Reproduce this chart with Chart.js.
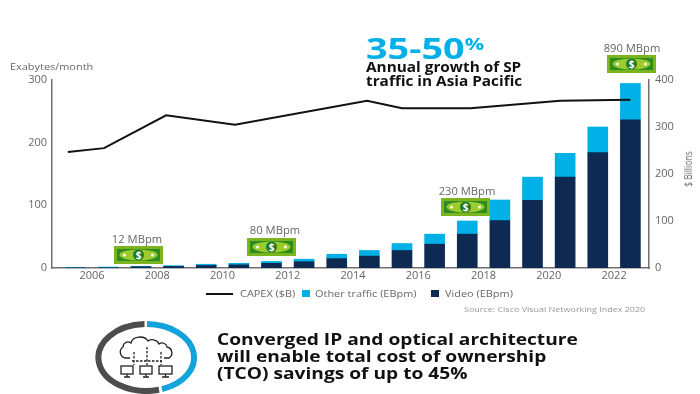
<!DOCTYPE html>
<html>
<head>
<meta charset="utf-8">
<script src="https://cdn.jsdelivr.net/npm/chart.js@4"></script>
<style>
  html, body { margin: 0; padding: 0; background: #fff; }
  body { width: 700px; height: 394px; position: relative; overflow: hidden; font-family: "Open Sans", sans-serif; }
  #chart { position: absolute; left: 0; top: 0; }
  .t { position: absolute; white-space: nowrap; line-height: 1; transform-origin: left center; }
  .rate { color: #666; font-size: 10px; transform: translateX(-50%) scaleX(1.12); transform-origin: center; }
  .big { font-size: 15.5px; font-weight: 700; color: #111; transform: scaleX(1.236); left: 217px; }
  .head { font-size: 13.5px; font-weight: 700; color: #111; transform: scaleX(1.136); left: 366px; }
  .leg { font-size: 9.5px; color: #666; transform: scaleX(1.15); top: 289px; }
  .bill { position: absolute; width: 49px; height: 18px; }
  .swatch { position: absolute; }
</style>
</head>
<body>
<canvas id="chart" width="700" height="394"></canvas>

<div class="t" style="left:10px;top:62px;font-size:9.5px;color:#666;transform:scaleX(1.15);">Exabytes/month</div>
<div class="t" style="left:683px;top:169px;font-size:10px;color:#666;transform:translate(-50%,-50%) rotate(-90deg) scaleX(.85);transform-origin:center;margin-left:5px;">$ Billions</div>

<div class="t" style="left:366px;top:34px;font-size:28px;font-weight:700;color:#00b0e6;transform:scaleX(1.35);">35-50<span style="font-size:16px;position:relative;top:-9px;">%</span></div>
<div class="t head" style="top:61px;">Annual growth of SP</div>
<div class="t head" style="top:75px;">traffic in Asia Pacific</div>

<div class="t rate" style="left:137px;top:234px;">12 MBpm</div>
<div class="t rate" style="left:275px;top:225px;">80 MBpm</div>
<div class="t rate" style="left:467px;top:186px;">230 MBpm</div>
<div class="t rate" style="left:632px;top:43px;">890 MBpm</div>

<svg class="bill" style="left:114px;top:246px;"><use href="#note"/></svg>
<svg class="bill" style="left:247px;top:238px;"><use href="#note"/></svg>
<svg class="bill" style="left:441px;top:198px;"><use href="#note"/></svg>
<svg class="bill" style="left:607px;top:55px;"><use href="#note"/></svg>

<svg width="0" height="0" style="position:absolute;">
  <symbol id="note" viewBox="0 0 49 18">
    <rect width="49" height="18" fill="#7ab51d"/>
    <rect x="3" y="3" width="43" height="12" fill="#2c8c22"/>
    <ellipse cx="24.5" cy="9" rx="19" ry="5.5" fill="#9ccc2c"/>
    <circle cx="24.5" cy="9" r="5.5" fill="#1f7a2a"/>
    <circle cx="10.5" cy="9" r="1.6" fill="#f4fbe8"/>
    <circle cx="38.5" cy="9" r="1.6" fill="#f4fbe8"/>
    <text x="24.5" y="12.5" text-anchor="middle" font-family="Open Sans" font-weight="700" font-size="10" fill="#fff">$</text>
  </symbol>
</svg>

<!-- legend -->
<div class="swatch" style="left:206px;top:293px;width:27px;height:2px;background:#111;"></div>
<div class="t leg" style="left:240px;">CAPEX ($B)</div>
<div class="swatch" style="left:302px;top:290px;width:8px;height:7px;background:#00b0e6;"></div>
<div class="t leg" style="left:315px;">Other traffic (EBpm)</div>
<div class="swatch" style="left:431px;top:290px;width:8px;height:7px;background:#0f2a52;"></div>
<div class="t leg" style="left:445px;">Video (EBpm)</div>

<div class="t" style="left:464px;top:305px;font-size:8px;color:#999;transform:scaleX(1.12);">Source: Cisco Visual Networking Index 2020</div>

<!-- network icon -->
<svg style="position:absolute;left:90px;top:315px;" width="115" height="79" viewBox="90 315 115 79">
  <path d="M147 324 A48 33.5 0 0 1 162 389.1" fill="none" stroke="#12a3dc" stroke-width="6"/>
  <path d="M144.5 324 A48 33.5 0 1 0 159 389.8" fill="none" stroke="#4d4d4d" stroke-width="6"/>
  <g fill="none" stroke="#222" stroke-width="1.3">
    <path d="M130 358 h-4 a6 6 0 0 1 -3 -11 a5 5 0 0 1 8 -4 a9 7 0 0 1 17 -2 a7 6 0 0 1 11 3 a5 5 0 0 1 8 3 a6 6 0 0 1 2 11 h-5"/>
    <path d="M147 347 v18 M134 352 v13 M161 352 v13 M132 361 h30" stroke-dasharray="2.5 1.5"/>
    <rect x="121" y="366" width="12" height="8"/><path d="M124 377 h6 M127 374 v3"/>
    <rect x="140" y="366" width="12" height="8"/><path d="M143 377 h6 M146 374 v3"/>
    <rect x="159" y="366" width="13" height="8"/><path d="M162 377 h7 M165.5 374 v3"/>
  </g>
</svg>

<div class="t big" style="top:332px;">Converged IP and optical architecture</div>
<div class="t big" style="top:349px;">will enable total cost of ownership</div>
<div class="t big" style="top:366px;">(TCO) savings of up to 45%</div>

<script>
// 棒グラフのデータ（左軸: EB/月）
const years = [2005, 2006, 2007, 2008, 2009, 2010, 2011, 2012, 2013, 2014, 2015, 2016, 2017, 2018, 2019, 2020, 2021, 2022];
const video = [0.4, 0.5, 2, 2.5, 4, 5, 7.5, 10, 15, 19, 28, 38, 54, 75.5, 108, 145, 184, 236.5];
const other = [0.6, 1, 0.7, 1.2, 2, 2.5, 3, 4, 7, 9, 11, 16, 21, 33, 37, 38, 41, 58];

// CAPEX折れ線（右軸: $B）
const capexYears = [2005.26, 2006.37, 2008.27, 2010.38, 2014.43, 2015.5, 2017.6, 2020.35, 2022.5];
const capex = [247, 255, 325, 305, 356, 340, 340, 356, 358];

const leftTicks = [0, 100, 200, 300];
const rightTicks = [0, 100, 200, 300, 400];

const gray = '#666';
const axisGray = '#707070';
const tickFont = { family: 'Open Sans', size: 11 };

// 棒の中心は年ラベルから半年ずれている
const toBars = (values) => values.map((v, i) => ({ x: years[i] + 0.5, y: v }));
const fixedTicks = (list) => (axis) => { axis.ticks = list.map(v => ({ value: v })); };

new Chart(document.getElementById('chart'), {
  type: 'bar',
  data: {
    datasets: [
      {
        type: 'line',
        label: 'CAPEX ($B)',
        data: capexYears.map((y, i) => ({ x: y, y: capex[i] })),
        yAxisID: 'yRight',
        borderColor: '#111',
        borderWidth: 2,
        pointRadius: 0,
        tension: 0
      },
      {
        label: 'Video (EBpm)',
        data: toBars(video),
        yAxisID: 'y',
        backgroundColor: '#0f2a52',
        barThickness: 20
      },
      {
        label: 'Other traffic (EBpm)',
        data: toBars(other),
        yAxisID: 'y',
        backgroundColor: '#00b0e6',
        barThickness: 20
      }
    ]
  },
  options: {
    responsive: false,
    animation: false,
    layout: { padding: { top: 80, bottom: 96, left: 0, right: 0 } },
    plugins: { legend: { display: false }, tooltip: { enabled: false } },
    scales: {
      x: {
        type: 'linear',
        z: -1,
        stacked: true,
        offset: false,
        min: 2004.774,
        max: 2023.07,
        grid: { display: false, offset: false, drawTicks: false },
        border: { color: axisGray, width: 1.5 },
        afterFit: (axis) => { axis.height = 30; },
        ticks: {
          stepSize: 2,
          includeBounds: false,
          autoSkip: false,
          maxRotation: 0,
          padding: 1,
          color: gray,
          font: tickFont,
          callback: (v) => String(v)
        }
      },
      y: {
        position: 'left',
        z: -1,
        stacked: true,
        min: 0,
        max: 300,
        grid: { display: false, drawTicks: false },
        border: { color: axisGray, width: 1.5 },
        afterFit: (axis) => { axis.width = 52; },
        afterBuildTicks: fixedTicks(leftTicks),
        ticks: { padding: 5, color: gray, font: tickFont }
      },
      yRight: {
        position: 'right',
        z: -1,
        min: 0,
        max: 400,
        grid: { display: false, drawTicks: false },
        border: { color: axisGray, width: 1.5 },
        afterFit: (axis) => { axis.width = 51; },
        afterBuildTicks: fixedTicks(rightTicks),
        ticks: { padding: 6, color: gray, font: tickFont }
      }
    }
  }
});
</script>
</body>
</html>
